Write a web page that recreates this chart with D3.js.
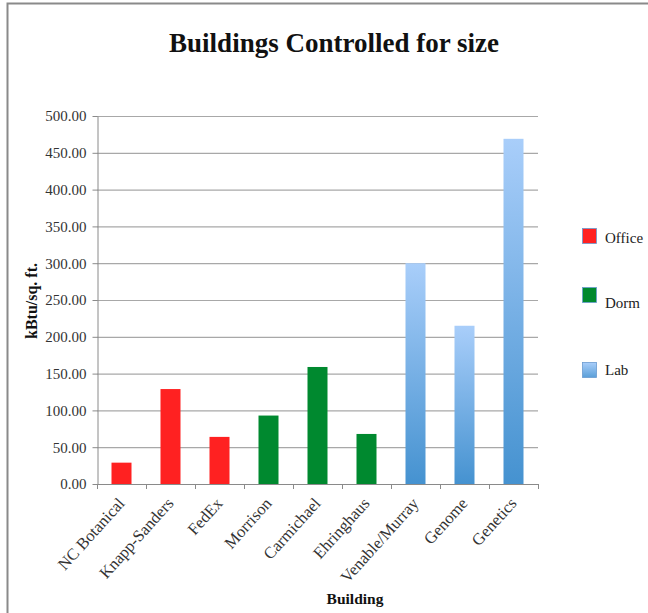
<!DOCTYPE html>
<html>
<head>
<meta charset="utf-8">
<script src="https://cdn.jsdelivr.net/npm/d3@7"></script>
<style>
  html, body { margin: 0; padding: 0; background: #fff; }
  svg { display: block; }
  text { font-family: "Liberation Serif", "DejaVu Serif", serif; }
</style>
</head>
<body>
<svg id="chart" width="648" height="613"></svg>
<script>
// Energy use intensity per building, grouped by building type
const buildings = ["NC Botanical", "Knapp-Sanders", "FedEx", "Morrison", "Carmichael",
                   "Ehringhaus", "Venable/Murray", "Genome", "Genetics"];
const kbtuPerSqFt = [29, 129, 64, 93, 159, 68, 300, 215, 469];
const buildingType = ["Office", "Office", "Office", "Dorm", "Dorm", "Dorm", "Lab", "Lab", "Lab"];
const types = ["Office", "Dorm", "Lab"];
const yTicks = [0, 50, 100, 150, 200, 250, 300, 350, 400, 450, 500];

const svg = d3.select("#chart");
const m = { left: 97, right: 538, top: 116, bottom: 484 };

// Chart frame
svg.append("rect")
  .attr("x", 7.5).attr("y", 3.5).attr("width", 700).attr("height", 700)
  .attr("fill", "#fff").attr("stroke", "#8a8a8a").attr("stroke-width", 2);

// Gradients for lab bars and legend swatch
const defs = svg.append("defs");
const g = defs.append("linearGradient").attr("id", "labGrad")
  .attr("x1", 0).attr("y1", 0).attr("x2", 0).attr("y2", 1);
g.append("stop").attr("offset", "0%").attr("stop-color", "#a9cefa");
g.append("stop").attr("offset", "100%").attr("stop-color", "#4592d0");
const gl = defs.append("linearGradient").attr("id", "labGradLegend")
  .attr("x1", 0).attr("y1", 0).attr("x2", 0).attr("y2", 1);
gl.append("stop").attr("offset", "0%").attr("stop-color", "#a9cefa");
gl.append("stop").attr("offset", "100%").attr("stop-color", "#5a9fd8");

const fill = { Office: "#ff2121", Dorm: "#00892f", Lab: "url(#labGrad)" };
const legendFill = { Office: "#ff2121", Dorm: "#00892f", Lab: "url(#labGradLegend)" };

const x = d3.scaleBand().domain(buildings).range([m.left, m.right]);
const y = d3.scaleLinear().domain([0, 500]).range([m.bottom, m.top]);

// Title
svg.append("text")
  .attr("x", 334).attr("y", 52)
  .attr("text-anchor", "middle")
  .attr("font-size", 27).attr("font-weight", "bold")
  .attr("fill", "#111")
  .text("Buildings Controlled for size");

// Gridlines
svg.append("g")
  .selectAll("line").data(yTicks.filter(d => d > 0)).join("line")
  .attr("x1", m.left).attr("x2", m.right)
  .attr("y1", d => y(d) + 0.5).attr("y2", d => y(d) + 0.5)
  .attr("stroke", "#a8a8a8").attr("stroke-width", 1.2);

// Y axis
const yAxis = svg.append("g").attr("transform", `translate(${m.left + 0.5},0)`)
  .call(d3.axisLeft(y).tickValues(yTicks).tickSize(5).tickSizeOuter(0)
    .tickFormat(d => d3.format(".2f")(d)));
yAxis.select(".domain").attr("stroke", "#8a8a8a");
yAxis.selectAll(".tick line").attr("stroke", "#8a8a8a");
yAxis.selectAll(".tick text")
  .attr("font-family", "Liberation Serif, DejaVu Serif, serif")
  .attr("font-size", 15).attr("fill", "#333").attr("x", -11);

// X axis with ticks at category boundaries
const bounds = buildings.map(b => x(b)).concat([m.right]);
svg.append("line")
  .attr("x1", m.left).attr("x2", m.right)
  .attr("y1", m.bottom + 0.5).attr("y2", m.bottom + 0.5)
  .attr("stroke", "#8a8a8a").attr("stroke-width", 1.2);
svg.append("g").selectAll("line").data(bounds).join("line")
  .attr("x1", d => d + 0.5).attr("x2", d => d + 0.5)
  .attr("y1", m.bottom).attr("y2", m.bottom + 5)
  .attr("stroke", "#8a8a8a");

// Bars
const barW = 20;
svg.append("g").selectAll("rect").data(buildings).join("rect")
  .attr("x", d => x(d) + x.bandwidth() / 2 - barW / 2)
  .attr("width", barW)
  .attr("y", (d, i) => y(kbtuPerSqFt[i]))
  .attr("height", (d, i) => y(0) - y(kbtuPerSqFt[i]))
  .attr("fill", (d, i) => fill[buildingType[i]]);

// Category labels, rotated
svg.append("g").selectAll("text").data(buildings).join("text")
  .attr("transform", d => `translate(${x(d) + x.bandwidth() / 2 + 4},${m.bottom + 20}) rotate(-48)`)
  .attr("text-anchor", "end")
  .attr("font-size", 16.5).attr("fill", "#333")
  .text(d => d);

// Axis titles
svg.append("text")
  .attr("transform", `translate(37,301) rotate(-90)`)
  .attr("text-anchor", "middle")
  .attr("font-size", 16).attr("font-weight", "bold").attr("fill", "#111")
  .text("kBtu/sq. ft.");
svg.append("text")
  .attr("x", 355).attr("y", 604)
  .attr("text-anchor", "middle")
  .attr("font-size", 15.5).attr("font-weight", "bold").attr("fill", "#111")
  .text("Building");

// Legend
const legendY = { Office: 228, Dorm: 287, Lab: 362 };
const legendBase = { Office: 243, Dorm: 308, Lab: 375 };
const lg = svg.append("g");
types.forEach(t => {
  lg.append("rect")
    .attr("x", 582.5).attr("y", legendY[t] + 0.5).attr("width", 14).attr("height", 15)
    .attr("fill", legendFill[t]).attr("stroke", "#6a9bd0").attr("stroke-width", 0.8);
  lg.append("text")
    .attr("x", 605).attr("y", legendBase[t])
    .attr("font-size", 15).attr("fill", "#222")
    .text(t);
});
</script>
</body>
</html>
